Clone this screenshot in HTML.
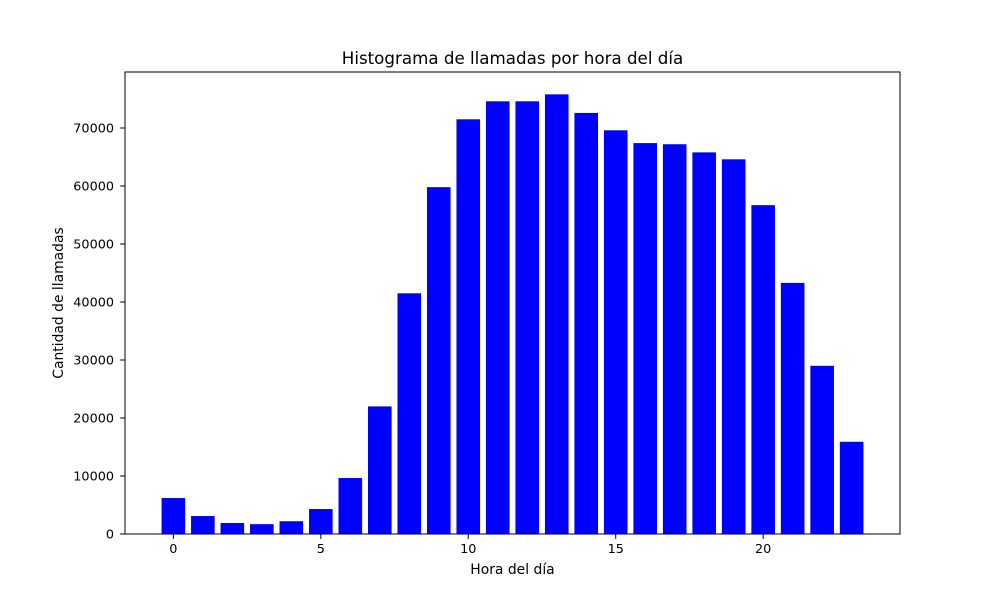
<!DOCTYPE html>
<html><head><meta charset="utf-8"><style>
body{margin:0;background:#fff;font-family:"DejaVu Sans","Liberation Sans",sans-serif}
svg text{font-family:"DejaVu Sans","Liberation Sans",sans-serif}
</style></head><body>
<svg id="c" width="1000" height="600" xmlns="http://www.w3.org/2000/svg"></svg>
<script>
const hours=[0,1,2,3,4,5,6,7,8,9,10,11,12,13,14,15,16,17,18,19,20,21,22,23];
const calls=[6200,3100,1900,1700,2200,4300,9650,22000,41500,59800,71500,74600,74600,75800,72600,69600,67400,67200,65800,64600,56700,43300,29000,15900];
const xTicks=[0,5,10,15,20];
const yTicks=[0,10000,20000,30000,40000,50000,60000,70000];
const L=125,R=900,T=72,B=534;
const xMin=-1.64,xMax=24.64,yMax=79655;
const sx=v=>L+(v-xMin)/(xMax-xMin)*(R-L);
const sy=v=>B-v/yMax*(B-T);
const svg=document.getElementById('c');
const NS='http://www.w3.org/2000/svg';
function mk(t,a,txt){const e=document.createElementNS(NS,t);for(const k in a)e.setAttribute(k,a[k]);if(txt!=null)e.textContent=txt;svg.appendChild(e);return e;}
hours.forEach((h,i)=>{
  const x0=sx(h-0.4),x1=sx(h+0.4);
  const r=mk('rect',{x:x0,y:sy(calls[i]),width:x1-x0,height:B-sy(calls[i]),fill:'#0000ff'});
  
  
});
const frame=mk('rect',{x:L,y:T,width:R-L,height:B-T,fill:'none',stroke:'#000','stroke-width':1});


xTicks.forEach(v=>{
  const x=sx(v);
  mk('line',{x1:x,x2:x,y1:B,y2:B+4.9,stroke:'#000'});
  const t=mk('text',{x:x,y:B+19,'text-anchor':'middle','font-size':12.8},v);
  
  
});
yTicks.forEach(v=>{
  const y=sy(v);
  mk('line',{x1:L-4.9,x2:L,y1:y,y2:y,stroke:'#000'});
  const t=mk('text',{x:L-11,y:y+4.5,'text-anchor':'end','font-size':12.8},v);
  
  
});
const tt=mk('text',{x:(L+R)/2,y:64,'text-anchor':'middle','font-size':16.7},'Histograma de llamadas por hora del día');


const xl=mk('text',{x:(L+R)/2,y:574,'text-anchor':'middle','font-size':13.9},'Hora del día');


const yl=mk('text',{x:63,y:(T+B)/2,'text-anchor':'middle','font-size':13.9,transform:'rotate(-90 63 '+((T+B)/2)+')'},'Cantidad de llamadas');


</script>
</body></html>
